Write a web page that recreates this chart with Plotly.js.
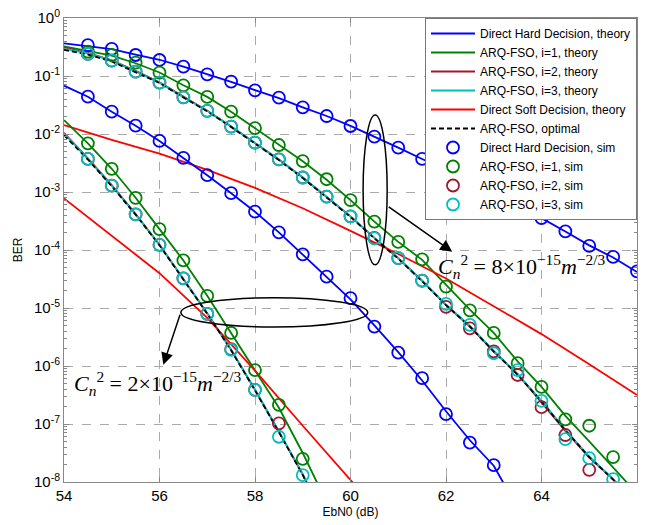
<!DOCTYPE html>
<html>
<head>
<meta charset="utf-8">
<script src="https://cdn.plot.ly/plotly-3.0.1.min.js"></script>
<style>html,body{margin:0;padding:0;background:#fff;}#chart{width:645px;height:525px;}</style>
</head>
<body>
<div id="chart"></div>
<script>
// EbN0 grids (dB)
const ebnoTheory8 = [54,54.5,55,55.5,56,56.5,57,57.5,58,58.5,59,59.5,60,60.5,61,61.5,62,62.5,63,63.5,64,64.5,65,65.5,66];
const ebnoSoft8 = [54,55,56,57,58,59,60,61,62,63,64,65,66];
const ebnoHard2 = [54,54.5,55,55.5,56,56.5,57,57.5,58,58.5,59,59.5,60,60.5,61,61.5,62,62.5,63,63.5];
const ebnoArq2 = [54,54.5,55,55.5,56,56.5,57,57.5,58,58.5,59,59.5];
const ebnoSoft2 = [54,55,56,57,58,59,60,61];

// log10(BER), theory, Cn2 = 8e-15
const hard8Theory = [-0.437,-0.48,-0.535,-0.63,-0.72,-0.84,-0.97,-1.10,-1.245,-1.38,-1.54,-1.69,-1.86,-2.045,-2.235,-2.43,-2.62,-2.82,-3.02,-3.23,-3.45,-3.68,-3.92,-4.13,-4.38];
const arq1_8Theory = [-0.49,-0.565,-0.65,-0.78,-0.94,-1.16,-1.36,-1.615,-1.90,-2.19,-2.47,-2.79,-3.14,-3.51,-3.86,-4.17,-4.60,-5.03,-5.43,-5.92,-6.36,-6.86,-7.30,-7.75,-8.2];
const arq2_8Theory = [-0.51,-0.60,-0.73,-0.91,-1.11,-1.36,-1.60,-1.87,-2.15,-2.44,-2.75,-3.08,-3.42,-3.79,-4.14,-4.53,-4.95,-5.32,-5.75,-6.14,-6.62,-7.12,-7.58,-7.95,-8.4];
const arq3_8Theory = [-0.53,-0.61,-0.735,-0.92,-1.115,-1.365,-1.60,-1.87,-2.15,-2.44,-2.75,-3.08,-3.42,-3.79,-4.14,-4.53,-4.94,-5.31,-5.74,-6.14,-6.60,-7.10,-7.56,-7.95,-8.4];
const opt8Theory = [-0.55,-0.63,-0.75,-0.93,-1.12,-1.37,-1.61,-1.88,-2.16,-2.45,-2.76,-3.09,-3.43,-3.80,-4.15,-4.54,-4.95,-5.32,-5.75,-6.15,-6.61,-7.11,-7.57,-7.96,-8.4];
const soft8Theory = [-1.845,-2.10,-2.34,-2.62,-2.93,-3.28,-3.67,-4.07,-4.49,-4.97,-5.45,-5.97,-6.5];

// log10(BER), theory, Cn2 = 2e-15
const hard2Theory = [-1.167,-1.357,-1.615,-1.857,-2.12,-2.41,-2.71,-3.02,-3.34,-3.695,-4.075,-4.46,-4.85,-5.30,-5.76,-6.25,-6.78,-7.28,-7.72,-8.45];
const arq1_2Theory = [-1.76,-2.16,-2.60,-3.10,-3.64,-4.18,-4.79,-5.43,-6.08,-6.72,-7.50,-8.35];
const arq2_2Theory = [-1.98,-2.42,-2.88,-3.38,-3.91,-4.49,-5.09,-5.72,-6.41,-7.13,-7.87,-8.7];
const arq3_2Theory = [-1.99,-2.43,-2.89,-3.385,-3.91,-4.49,-5.09,-5.72,-6.41,-7.13,-7.87,-8.7];
const opt2Theory = [-2.02,-2.44,-2.90,-3.39,-3.92,-4.50,-5.10,-5.73,-6.42,-7.14,-7.88,-8.7];
const soft2Theory = [-3.11,-3.75,-4.40,-5.17,-6.08,-7.03,-7.95,-8.9];

// simulation points
const ebnoSimHard8 = [54.5,55,55.5,56,56.5,57,57.5,58,58.5,59,59.5,60,60.5,61,61.5,62,62.5,63,63.5,64,64.5,65,65.5,66];
const hard8Sim = [-0.466,-0.534,-0.638,-0.724,-0.839,-0.971,-1.098,-1.247,-1.374,-1.54,-1.69,-1.862,-2.046,-2.236,-2.43,-2.62,-2.82,-3.02,-3.24,-3.45,-3.68,-3.93,-4.12,-4.37];
const ebnoSimArq1_8 = [54.5,55,55.5,56,56.5,57,57.5,58,58.5,59,59.5,60,60.5,61,61.5,62,62.5,63,63.5,64,64.5,65,65.5];
const arq1_8Sim = [-0.58,-0.638,-0.77,-0.943,-1.16,-1.36,-1.615,-1.90,-2.19,-2.466,-2.78,-3.14,-3.51,-3.86,-4.16,-4.63,-5.04,-5.43,-5.95,-6.36,-6.92,-7.03,-7.57];
const ebnoSimArq2_8 = [54.5,55,55.5,56,56.5,57,57.5,58,58.5,59,59.5,60,60.5,61,61.5,62,62.5,63,63.5,64,64.5,65];
const arq2_8Sim = [-0.62,-0.736,-0.925,-1.115,-1.368,-1.60,-1.874,-2.15,-2.436,-2.75,-3.08,-3.42,-3.79,-4.14,-4.53,-4.98,-5.35,-5.75,-6.155,-6.71,-7.19,-7.79];
const ebnoSimArq3_8 = [54.5,55,55.5,56,56.5,57,57.5,58,58.5,59,59.5,60,60.5,61,61.5,62,62.5,63,63.5,64,64.5,65,65.5];
const arq3_8Sim = [-0.62,-0.736,-0.925,-1.115,-1.368,-1.60,-1.874,-2.15,-2.436,-2.75,-3.08,-3.42,-3.80,-4.14,-4.53,-4.93,-5.29,-5.78,-6.07,-6.60,-7.26,-7.59,-7.95];

const ebnoSimHard2 = [54.5,55,55.5,56,56.5,57,57.5,58,58.5,59,59.5,60,60.5,61,61.5,62,62.5,63];
const hard2Sim = [-1.357,-1.615,-1.857,-2.12,-2.41,-2.71,-3.02,-3.34,-3.695,-4.075,-4.46,-4.83,-5.32,-5.77,-6.21,-6.83,-7.32,-7.71];
const ebnoSimArq1_2 = [54.5,55,55.5,56,56.5,57,57.5,58,58.5,59];
const arq1_2Sim = [-2.16,-2.60,-3.10,-3.64,-4.18,-4.79,-5.43,-6.07,-6.67,-7.60];
const ebnoSimArq2_2 = [54.5,55,55.5,56,56.5,57,57.5,58,58.5];
const arq2_2Sim = [-2.43,-2.89,-3.385,-3.91,-4.49,-5.10,-5.71,-6.41,-6.99];
const ebnoSimArq3_2 = [54.5,55,55.5,56,56.5,57,57.5,58,58.5,59];
const arq3_2Sim = [-2.43,-2.89,-3.385,-3.91,-4.49,-5.10,-5.72,-6.41,-7.22,-7.88];

const yTickVals = [1,1e-1,1e-2,1e-3,1e-4,1e-5,1e-6,1e-7,1e-8];
const yTickText = ['10<sup>0</sup>','10<sup>-1</sup>','10<sup>-2</sup>','10<sup>-3</sup>','10<sup>-4</sup>','10<sup>-5</sup>','10<sup>-6</sup>','10<sup>-7</sup>','10<sup>-8</sup>'];

const BLUE = '#0000FF', GREEN = '#008000', DRED = '#A01830', CYAN = '#00BFBF', RED = '#FF0000', BLACK = '#000000';
const toBer = a => a.map(v => Math.pow(10, v));

function line(x, y, name, color, show, dash) {
  return {x: x, y: toBer(y), type: 'scatter', mode: 'lines', name: name,
          showlegend: show, line: {color: color, width: 1.8, dash: dash || 'solid'}};
}
function sim(x, y, name, color, show) {
  return {x: x, y: toBer(y), type: 'scatter', mode: 'markers', name: name,
          showlegend: show, marker: {symbol: 'circle-open', size: 12, color: color, line: {color: color, width: 1.8}}};
}

const traces = [
  line(ebnoTheory8, hard8Theory, 'Direct Hard Decision, theory', BLUE, true),
  line(ebnoTheory8, arq1_8Theory, 'ARQ-FSO, i=1, theory', GREEN, true),
  line(ebnoTheory8, arq2_8Theory, 'ARQ-FSO, i=2, theory', DRED, true),
  line(ebnoTheory8, arq3_8Theory, 'ARQ-FSO, i=3, theory', CYAN, true),
  line(ebnoSoft8, soft8Theory, 'Direct Soft Decision, theory', RED, true),
  line(ebnoTheory8, opt8Theory, 'ARQ-FSO, optimal', BLACK, true, '5px,3px'),
  sim(ebnoSimHard8, hard8Sim, 'Direct Hard Decision, sim', BLUE, true),
  sim(ebnoSimArq1_8, arq1_8Sim, 'ARQ-FSO, i=1, sim', GREEN, true),
  sim(ebnoSimArq2_8, arq2_8Sim, 'ARQ-FSO, i=2, sim', DRED, true),
  sim(ebnoSimArq3_8, arq3_8Sim, 'ARQ-FSO, i=3, sim', CYAN, true),
  line(ebnoHard2, hard2Theory, 'Direct Hard Decision, theory', BLUE, false),
  line(ebnoArq2, arq1_2Theory, 'ARQ-FSO, i=1, theory', GREEN, false),
  line(ebnoArq2, arq2_2Theory, 'ARQ-FSO, i=2, theory', DRED, false),
  line(ebnoArq2, arq3_2Theory, 'ARQ-FSO, i=3, theory', CYAN, false),
  line(ebnoSoft2, soft2Theory, 'Direct Soft Decision, theory', RED, false),
  line(ebnoArq2, opt2Theory, 'ARQ-FSO, optimal', BLACK, false, '5px,3px'),
  sim(ebnoSimHard2, hard2Sim, 'Direct Hard Decision, sim', BLUE, false),
  sim(ebnoSimArq1_2, arq1_2Sim, 'ARQ-FSO, i=1, sim', GREEN, false),
  sim(ebnoSimArq2_2, arq2_2Sim, 'ARQ-FSO, i=2, sim', DRED, false),
  sim(ebnoSimArq3_2, arq3_2Sim, 'ARQ-FSO, i=3, sim', CYAN, false)
];

const axisCommon = {
  showline: true, linecolor: '#888', linewidth: 1, mirror: 'allticks',
  ticks: 'inside', ticklen: 5, tickcolor: '#888',
  showgrid: true, gridcolor: '#AAAAAA', griddash: 'dash', gridwidth: 1,
  zeroline: false, tickfont: {family: 'Liberation Sans, Arial, sans-serif', size: 15, color: '#000'}
};

const layout = {
  width: 645, height: 525,
  margin: {l: 64, r: 8, t: 18, b: 43},
  paper_bgcolor: '#fff', plot_bgcolor: '#fff',
  font: {family: 'Liberation Sans, Arial, sans-serif', size: 12, color: '#000'},
  showlegend: true,
  legend: {x: 1, y: 1, xanchor: 'right', yanchor: 'top', bgcolor: '#fff', bordercolor: '#777', borderwidth: 1,
           itemwidth: 44, tracegroupgap: 0,
           font: {family: 'Liberation Sans, Arial, sans-serif', size: 12, color: '#000'}},
  xaxis: Object.assign({}, axisCommon, {
    range: [54, 66], tickvals: [54,56,58,60,62,64,66], ticktext: ['54','56','58','60','62','64','66'],
    title: {text: 'EbN0 (dB)', font: {size: 12}, standoff: 4}
  }),
  yaxis: Object.assign({}, axisCommon, {
    type: 'log', range: [-8, 0], tickvals: yTickVals, ticktext: yTickText,
    minor: {ticks: 'inside', ticklen: 3, tickcolor: '#888', showgrid: false, dtick: 'D1'},
    title: {text: 'BER', font: {size: 12}, standoff: 8}
  }),
  shapes: [
    {type: 'circle', xref: 'paper', yref: 'paper', x0: 0.522, x1: 0.564, y0: 0.468, y1: 0.791, line: {color: '#000', width: 1.5}},
    {type: 'circle', xref: 'paper', yref: 'paper', x0: 0.204, x1: 0.530, y0: 0.334, y1: 0.397, line: {color: '#000', width: 1.5}}
  ],
  annotations: [
    {xref: 'x', yref: 'y', axref: 'x', ayref: 'y', x: 62.13, y: -4.03, ax: 60.77, ay: -3.24,
     showarrow: true, arrowhead: 2, arrowsize: 1.6, arrowwidth: 1.5, arrowcolor: '#000', text: ''},
    {xref: 'x', yref: 'y', axref: 'x', ayref: 'y', x: 56.08, y: -5.98, ax: 56.44, ay: -5.09,
     showarrow: true, arrowhead: 2, arrowsize: 1.6, arrowwidth: 1.5, arrowcolor: '#000', text: ''},
    {xref: 'x', yref: 'y', x: 63.6, y: -4.28, showarrow: false,
     text: '<i>C</i><sub><i>n</i></sub><sup>2</sup> = 8×10<sup>−15</sup><i>m</i><sup>−2/3</sup>',
     font: {family: 'Liberation Serif, Times New Roman, serif', size: 22, color: '#000'}},
    {xref: 'x', yref: 'y', x: 55.96, y: -6.31, showarrow: false,
     text: '<i>C</i><sub><i>n</i></sub><sup>2</sup> = 2×10<sup>−15</sup><i>m</i><sup>−2/3</sup>',
     font: {family: 'Liberation Serif, Times New Roman, serif', size: 22, color: '#000'}}
  ]
};

Plotly.newPlot('chart', traces, layout, {displayModeBar: false, staticPlot: true});
</script>
</body>
</html>
